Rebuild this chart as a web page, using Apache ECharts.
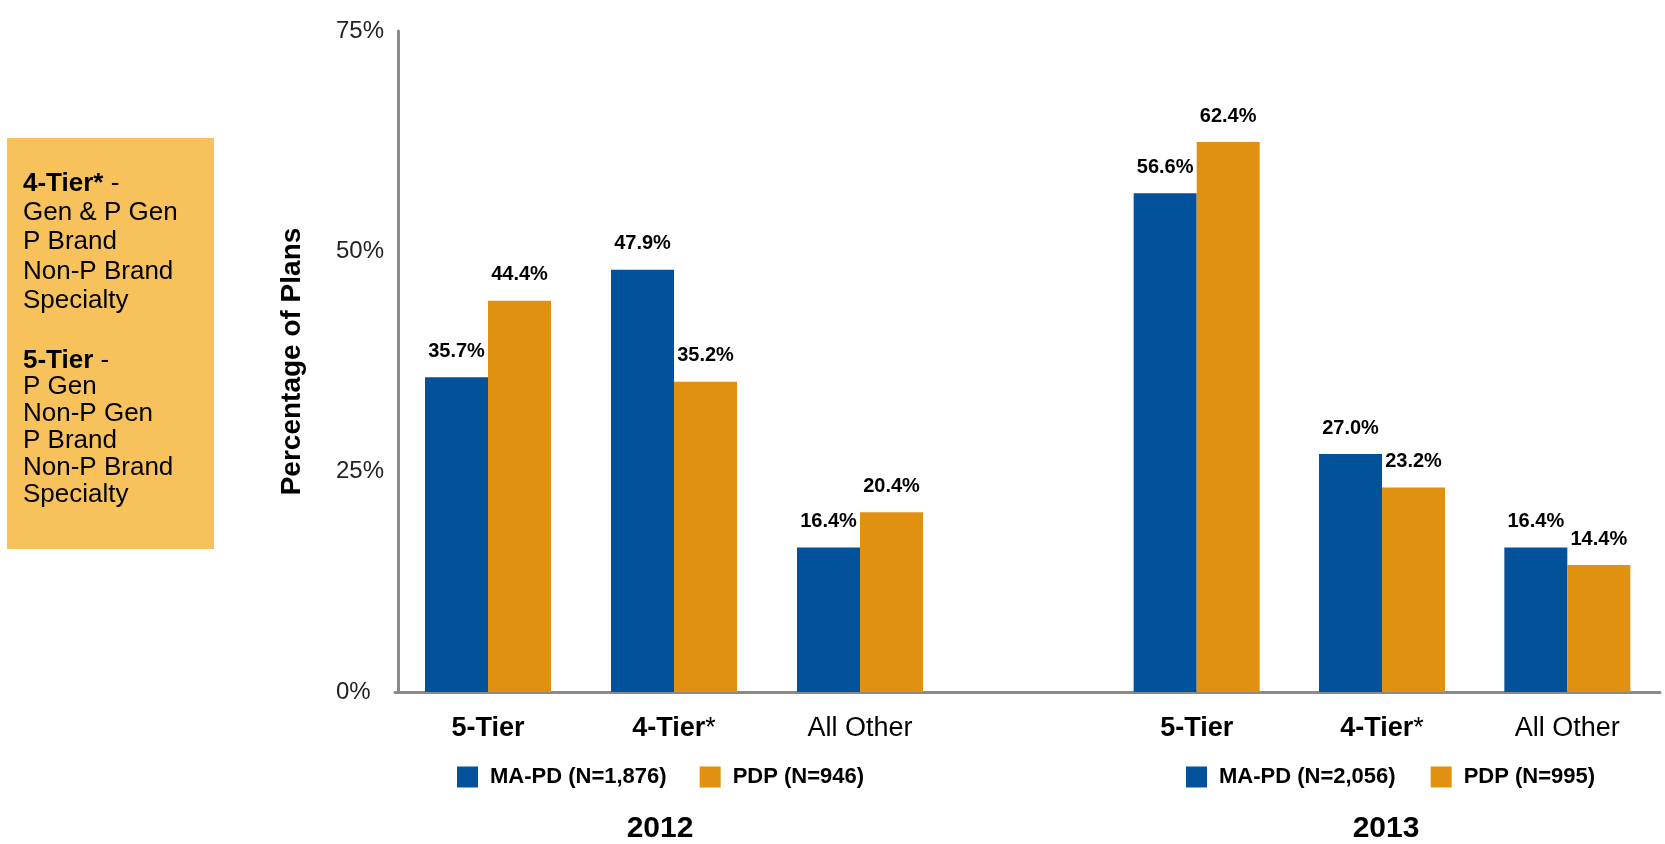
<!DOCTYPE html>
<html>
<head>
<meta charset="utf-8">
<script src="https://cdn.jsdelivr.net/npm/echarts@6/dist/echarts.min.js"></script>
<style>
  html, body { margin: 0; padding: 0; background: #fff; }
  #chart { width: 1665px; height: 844px; }
</style>
</head>
<body>
<div id="chart"></div>
<script>
var categories = ['5-Tier', '4-Tier*', 'All Other'];
var maPd2012 = [35.7, 47.9, 16.4];
var pdp2012 = [44.4, 35.2, 20.4];
var maPd2013 = [56.6, 27.0, 16.4];
var pdp2013 = [62.4, 23.2, 14.4];
var seriesNames2012 = ['MA-PD (N=1,876)', 'PDP (N=946)'];
var seriesNames2013 = ['MA-PD (N=2,056)', 'PDP (N=995)'];
var years = ['2012', '2013'];
var noteTier4 = ['{b|4-Tier*} -', 'Gen & P Gen', 'P Brand', 'Non-P Brand', 'Specialty'];
var noteTier5 = ['{b|5-Tier} -', 'P Gen', 'Non-P Gen', 'P Brand', 'Non-P Brand', 'Specialty'];

var FONT = '"Liberation Sans", Arial, sans-serif';
var BLUE = '#02529B';
var ORANGE = '#DF910F';
var AXIS = '#8a8a8a';

var chart = echarts.init(document.getElementById('chart'));

function catLabel(v) {
  if (v === '4-Tier*') return '{b|4-Tier}{n|*}';
  if (v === 'All Other') return '{n|All Other}';
  return '{b|' + v + '}';
}

function xAxisFor(idx) {
  return {
    type: 'category',
    gridIndex: idx,
    data: categories,
    axisLine: { lineStyle: { color: AXIS, width: 3 } },
    axisTick: { show: false },
    axisLabel: {
      margin: 23,
      formatter: catLabel,
      rich: {
        b: { fontFamily: FONT, fontSize: 27, fontWeight: 'bold', color: '#000' },
        n: { fontFamily: FONT, fontSize: 27, color: '#000' }
      }
    }
  };
}

function barSeries(name, data, color, idx) {
  return {
    name: name,
    type: 'bar',
    xAxisIndex: idx,
    yAxisIndex: idx,
    data: data,
    barWidth: 63,
    barGap: '0%',
    itemStyle: { color: color },
    label: {
      show: true,
      position: 'top',
      distance: 16,
      fontFamily: FONT,
      fontSize: 20,
      fontWeight: 'bold',
      color: '#000',
      formatter: function (p) { return p.value.toFixed(1) + '%'; }
    }
  };
}

function legendFor(names, left, gap) {
  return {
    data: names,
    left: left,
    top: 766,
    padding: 0,
    itemWidth: 21,
    itemHeight: 21,
    itemGap: gap,
    icon: 'rect',
    textStyle: { fontFamily: FONT, fontSize: 22, fontWeight: 'bold', color: '#000', padding: [0, 0, 0, 7] }
  };
}

var option = {
  animation: false,
  grid: [
    { left: 395, top: 31, width: 558, height: 661 },
    { left: 1104, top: 31, width: 556, height: 661 },
    // empty strip between the two years, only carries the axis line
    { left: 950, top: 31, width: 157, height: 661 }
  ],
  xAxis: [
    xAxisFor(0),
    xAxisFor(1),
    {
      type: 'category',
      gridIndex: 2,
      data: [''],
      axisLine: { lineStyle: { color: AXIS, width: 3 } },
      axisTick: { show: false },
      axisLabel: { show: false }
    }
  ],
  yAxis: [
    {
      type: 'value',
      gridIndex: 0,
      offset: -3,
      min: 0,
      max: 75,
      interval: 25,
      name: 'Percentage of Plans',
      nameLocation: 'middle',
      nameGap: 92,
      nameTextStyle: { fontFamily: FONT, fontSize: 28, fontWeight: 'bold', color: '#000' },
      axisLine: { show: true, lineStyle: { color: AXIS, width: 3 } },
      axisTick: { show: false },
      splitLine: { show: false },
      axisLabel: {
        margin: 62,
        align: 'left',
        fontFamily: FONT,
        fontSize: 24,
        color: '#222',
        formatter: '{value}%'
      }
    },
    { type: 'value', gridIndex: 1, min: 0, max: 75, interval: 25, show: false },
    { type: 'value', gridIndex: 2, min: 0, max: 75, interval: 25, show: false }
  ],
  legend: [legendFor(seriesNames2012, 457, 33), legendFor(seriesNames2013, 1186, 35)],
  series: [
    barSeries(seriesNames2012[0], maPd2012, BLUE, 0),
    barSeries(seriesNames2012[1], pdp2012, ORANGE, 0),
    barSeries(seriesNames2013[0], maPd2013, BLUE, 1),
    barSeries(seriesNames2013[1], pdp2013, ORANGE, 1)
  ],
  graphic: [
    {
      type: 'text',
      style: { text: years[0], x: 660, y: 829, align: 'center', verticalAlign: 'middle',
        fontFamily: FONT, fontSize: 30, fontWeight: 'bold', fill: '#000' }
    },
    {
      type: 'text',
      style: { text: years[1], x: 1386, y: 829, align: 'center', verticalAlign: 'middle',
        fontFamily: FONT, fontSize: 30, fontWeight: 'bold', fill: '#000' }
    },
    // tier definitions box
    {
      type: 'rect',
      shape: { x: 7, y: 138, width: 207, height: 411 },
      style: { fill: '#F7C25B' }
    },
    {
      type: 'text',
      style: {
        text: noteTier4.join('\n'), x: 23, y: 169,
        fontFamily: FONT, fontSize: 26, lineHeight: 29.3, fill: '#000',
        rich: { b: { fontFamily: FONT, fontSize: 26, fontWeight: 'bold', lineHeight: 29.3, fill: '#000' } }
      }
    },
    {
      type: 'text',
      style: {
        text: noteTier5.join('\n'), x: 23, y: 347,
        fontFamily: FONT, fontSize: 26, lineHeight: 26.8, fill: '#000',
        rich: { b: { fontFamily: FONT, fontSize: 26, fontWeight: 'bold', lineHeight: 26.8, fill: '#000' } }
      }
    }
  ]
};

chart.setOption(option);
</script>
</body>
</html>
